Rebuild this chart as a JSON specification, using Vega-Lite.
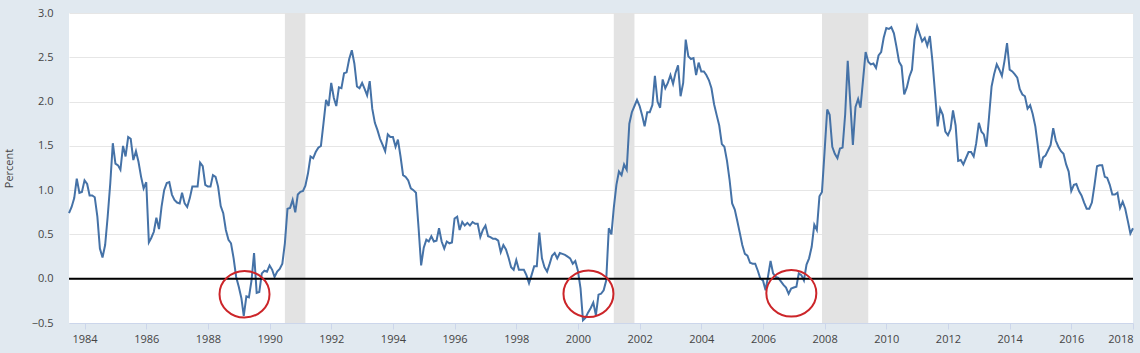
{
"$schema": "https://vega.github.io/schema/vega-lite/v6.json",
"width": 1064,
"height": 310,
"autosize": {"type": "none"},
"padding": {"left": 69, "top": 13, "right": 7, "bottom": 30},
"background": "#e1e9f0",
"config": {"view": {"fill": "white", "stroke": null}, "font": "Open Sans"},
"datasets": {
"recessions": [
{"start": "1990-07-01", "end": "1991-03-01"},
{"start": "2001-03-01", "end": "2001-11-01"},
{"start": "2007-12-01", "end": "2009-06-01"}
],
"circles": [
{"date": "1989-03-10", "v": -0.175},
{"date": "2000-05-05", "v": -0.17},
{"date": "2006-12-03", "v": -0.165}
],
"spread": [
{"date":"1983-07-01","v":0.74},{"date":"1983-08-01","v":0.81},{"date":"1983-09-01","v":0.91},{"date":"1983-10-01","v":1.13},{"date":"1983-11-01","v":0.97},{"date":"1983-12-01","v":0.98},
{"date":"1984-01-01","v":1.11},{"date":"1984-02-01","v":1.07},{"date":"1984-03-01","v":0.94},{"date":"1984-04-01","v":0.94},{"date":"1984-05-01","v":0.92},{"date":"1984-06-01","v":0.70},{"date":"1984-07-01","v":0.34},{"date":"1984-08-01","v":0.24},{"date":"1984-09-01","v":0.38},{"date":"1984-10-01","v":0.70},{"date":"1984-11-01","v":1.08},{"date":"1984-12-01","v":1.53},
{"date":"1985-01-01","v":1.30},{"date":"1985-02-01","v":1.28},{"date":"1985-03-01","v":1.23},{"date":"1985-04-01","v":1.50},{"date":"1985-05-01","v":1.38},{"date":"1985-06-01","v":1.60},{"date":"1985-07-01","v":1.58},{"date":"1985-08-01","v":1.34},{"date":"1985-09-01","v":1.44},{"date":"1985-10-01","v":1.32},{"date":"1985-11-01","v":1.15},{"date":"1985-12-01","v":1.02},
{"date":"1986-01-01","v":1.09},{"date":"1986-02-01","v":0.41},{"date":"1986-03-01","v":0.46},{"date":"1986-04-01","v":0.53},{"date":"1986-05-01","v":0.69},{"date":"1986-06-01","v":0.56},{"date":"1986-07-01","v":0.81},{"date":"1986-08-01","v":1.00},{"date":"1986-09-01","v":1.08},{"date":"1986-10-01","v":1.09},{"date":"1986-11-01","v":0.95},{"date":"1986-12-01","v":0.89},
{"date":"1987-01-01","v":0.86},{"date":"1987-02-01","v":0.85},{"date":"1987-03-01","v":0.97},{"date":"1987-04-01","v":0.85},{"date":"1987-05-01","v":0.81},{"date":"1987-06-01","v":0.91},{"date":"1987-07-01","v":1.04},{"date":"1987-08-01","v":1.04},{"date":"1987-09-01","v":1.04},{"date":"1987-10-01","v":1.31},{"date":"1987-11-01","v":1.27},{"date":"1987-12-01","v":1.06},
{"date":"1988-01-01","v":1.04},{"date":"1988-02-01","v":1.04},{"date":"1988-03-01","v":1.17},{"date":"1988-04-01","v":1.15},{"date":"1988-05-01","v":1.04},{"date":"1988-06-01","v":0.82},{"date":"1988-07-01","v":0.74},{"date":"1988-08-01","v":0.55},{"date":"1988-09-01","v":0.44},{"date":"1988-10-01","v":0.40},{"date":"1988-11-01","v":0.23},{"date":"1988-12-01","v":0.02},
{"date":"1989-01-01","v":-0.09},{"date":"1989-02-01","v":-0.22},{"date":"1989-03-01","v":-0.42},{"date":"1989-04-01","v":-0.20},{"date":"1989-05-01","v":-0.21},{"date":"1989-06-01","v":-0.02},{"date":"1989-07-01","v":0.29},{"date":"1989-08-01","v":-0.16},{"date":"1989-09-01","v":-0.15},{"date":"1989-10-01","v":0.06},{"date":"1989-11-01","v":0.09},{"date":"1989-12-01","v":0.08},
{"date":"1990-01-01","v":0.15},{"date":"1990-02-01","v":0.10},{"date":"1990-03-01","v":0.02},{"date":"1990-04-01","v":0.08},{"date":"1990-05-01","v":0.11},{"date":"1990-06-01","v":0.17},{"date":"1990-07-01","v":0.40},{"date":"1990-08-01","v":0.79},{"date":"1990-09-01","v":0.80},{"date":"1990-10-01","v":0.89},{"date":"1990-11-01","v":0.75},{"date":"1990-12-01","v":0.95},
{"date":"1991-01-01","v":0.98},{"date":"1991-02-01","v":0.99},{"date":"1991-03-01","v":1.05},{"date":"1991-04-01","v":1.19},{"date":"1991-05-01","v":1.38},{"date":"1991-06-01","v":1.36},{"date":"1991-07-01","v":1.43},{"date":"1991-08-01","v":1.48},{"date":"1991-09-01","v":1.50},{"date":"1991-10-01","v":1.75},{"date":"1991-11-01","v":2.02},{"date":"1991-12-01","v":1.95},
{"date":"1992-01-01","v":2.21},{"date":"1992-02-01","v":2.04},{"date":"1992-03-01","v":1.95},{"date":"1992-04-01","v":2.16},{"date":"1992-05-01","v":2.15},{"date":"1992-06-01","v":2.32},{"date":"1992-07-01","v":2.33},{"date":"1992-08-01","v":2.48},{"date":"1992-09-01","v":2.58},{"date":"1992-10-01","v":2.43},{"date":"1992-11-01","v":2.17},{"date":"1992-12-01","v":2.15},
{"date":"1993-01-01","v":2.21},{"date":"1993-02-01","v":2.14},{"date":"1993-03-01","v":2.07},{"date":"1993-04-01","v":2.23},{"date":"1993-05-01","v":1.92},{"date":"1993-06-01","v":1.76},{"date":"1993-07-01","v":1.68},{"date":"1993-08-01","v":1.58},{"date":"1993-09-01","v":1.51},{"date":"1993-10-01","v":1.44},{"date":"1993-11-01","v":1.63},{"date":"1993-12-01","v":1.60},
{"date":"1994-01-01","v":1.60},{"date":"1994-02-01","v":1.49},{"date":"1994-03-01","v":1.57},{"date":"1994-04-01","v":1.38},{"date":"1994-05-01","v":1.17},{"date":"1994-06-01","v":1.15},{"date":"1994-07-01","v":1.11},{"date":"1994-08-01","v":1.02},{"date":"1994-09-01","v":1.00},{"date":"1994-10-01","v":0.97},{"date":"1994-11-01","v":0.57},{"date":"1994-12-01","v":0.15},
{"date":"1995-01-01","v":0.35},{"date":"1995-02-01","v":0.44},{"date":"1995-03-01","v":0.42},{"date":"1995-04-01","v":0.48},{"date":"1995-05-01","v":0.42},{"date":"1995-06-01","v":0.43},{"date":"1995-07-01","v":0.57},{"date":"1995-08-01","v":0.42},{"date":"1995-09-01","v":0.34},{"date":"1995-10-01","v":0.42},{"date":"1995-11-01","v":0.40},{"date":"1995-12-01","v":0.41},
{"date":"1996-01-01","v":0.68},{"date":"1996-02-01","v":0.70},{"date":"1996-03-01","v":0.55},{"date":"1996-04-01","v":0.64},{"date":"1996-05-01","v":0.60},{"date":"1996-06-01","v":0.63},{"date":"1996-07-01","v":0.60},{"date":"1996-08-01","v":0.64},{"date":"1996-09-01","v":0.62},{"date":"1996-10-01","v":0.62},{"date":"1996-11-01","v":0.47},{"date":"1996-12-01","v":0.55},
{"date":"1997-01-01","v":0.60},{"date":"1997-02-01","v":0.48},{"date":"1997-03-01","v":0.47},{"date":"1997-04-01","v":0.45},{"date":"1997-05-01","v":0.45},{"date":"1997-06-01","v":0.43},{"date":"1997-07-01","v":0.30},{"date":"1997-08-01","v":0.38},{"date":"1997-09-01","v":0.33},{"date":"1997-10-01","v":0.24},{"date":"1997-11-01","v":0.13},{"date":"1997-12-01","v":0.10},
{"date":"1998-01-01","v":0.21},{"date":"1998-02-01","v":0.10},{"date":"1998-03-01","v":0.10},{"date":"1998-04-01","v":0.10},{"date":"1998-05-01","v":0.04},{"date":"1998-06-01","v":-0.05},{"date":"1998-07-01","v":0.04},{"date":"1998-08-01","v":0.14},{"date":"1998-09-01","v":0.14},{"date":"1998-10-01","v":0.52},{"date":"1998-11-01","v":0.23},{"date":"1998-12-01","v":0.13},
{"date":"1999-01-01","v":0.08},{"date":"1999-02-01","v":0.17},{"date":"1999-03-01","v":0.26},{"date":"1999-04-01","v":0.29},{"date":"1999-05-01","v":0.23},{"date":"1999-06-01","v":0.29},{"date":"1999-07-01","v":0.28},{"date":"1999-08-01","v":0.27},{"date":"1999-09-01","v":0.25},{"date":"1999-10-01","v":0.23},{"date":"1999-11-01","v":0.17},{"date":"1999-12-01","v":0.20},
{"date":"2000-01-01","v":0.09},{"date":"2000-02-01","v":-0.11},{"date":"2000-03-01","v":-0.47},{"date":"2000-04-01","v":-0.44},{"date":"2000-05-01","v":-0.38},{"date":"2000-06-01","v":-0.33},{"date":"2000-07-01","v":-0.27},{"date":"2000-08-01","v":-0.41},{"date":"2000-09-01","v":-0.18},{"date":"2000-10-01","v":-0.17},{"date":"2000-11-01","v":-0.13},{"date":"2000-12-01","v":-0.02},
{"date":"2001-01-01","v":0.57},{"date":"2001-02-01","v":0.50},{"date":"2001-03-01","v":0.80},{"date":"2001-04-01","v":1.06},{"date":"2001-05-01","v":1.21},{"date":"2001-06-01","v":1.17},{"date":"2001-07-01","v":1.29},{"date":"2001-08-01","v":1.23},{"date":"2001-09-01","v":1.75},{"date":"2001-10-01","v":1.88},{"date":"2001-11-01","v":1.95},{"date":"2001-12-01","v":2.02},
{"date":"2002-01-01","v":1.95},{"date":"2002-02-01","v":1.84},{"date":"2002-03-01","v":1.72},{"date":"2002-04-01","v":1.88},{"date":"2002-05-01","v":1.88},{"date":"2002-06-01","v":1.96},{"date":"2002-07-01","v":2.29},{"date":"2002-08-01","v":2.00},{"date":"2002-09-01","v":1.93},{"date":"2002-10-01","v":2.25},{"date":"2002-11-01","v":2.15},{"date":"2002-12-01","v":2.21},
{"date":"2003-01-01","v":2.30},{"date":"2003-02-01","v":2.20},{"date":"2003-03-01","v":2.32},{"date":"2003-04-01","v":2.41},{"date":"2003-05-01","v":2.06},{"date":"2003-06-01","v":2.21},{"date":"2003-07-01","v":2.70},{"date":"2003-08-01","v":2.51},{"date":"2003-09-01","v":2.48},{"date":"2003-10-01","v":2.49},{"date":"2003-11-01","v":2.30},{"date":"2003-12-01","v":2.44},
{"date":"2004-01-01","v":2.34},{"date":"2004-02-01","v":2.34},{"date":"2004-03-01","v":2.30},{"date":"2004-04-01","v":2.24},{"date":"2004-05-01","v":2.15},{"date":"2004-06-01","v":1.97},{"date":"2004-07-01","v":1.85},{"date":"2004-08-01","v":1.73},{"date":"2004-09-01","v":1.52},{"date":"2004-10-01","v":1.49},{"date":"2004-11-01","v":1.33},{"date":"2004-12-01","v":1.12},
{"date":"2005-01-01","v":0.85},{"date":"2005-02-01","v":0.78},{"date":"2005-03-01","v":0.66},{"date":"2005-04-01","v":0.52},{"date":"2005-05-01","v":0.38},{"date":"2005-06-01","v":0.28},{"date":"2005-07-01","v":0.26},{"date":"2005-08-01","v":0.18},{"date":"2005-09-01","v":0.17},{"date":"2005-10-01","v":0.17},{"date":"2005-11-01","v":0.09},{"date":"2005-12-01","v":0.00},
{"date":"2006-01-01","v":-0.02},{"date":"2006-02-01","v":-0.13},{"date":"2006-03-01","v":0.02},{"date":"2006-04-01","v":0.20},{"date":"2006-05-01","v":0.06},{"date":"2006-06-01","v":0.02},{"date":"2006-07-01","v":0.01},{"date":"2006-08-01","v":-0.03},{"date":"2006-09-01","v":-0.07},{"date":"2006-10-01","v":-0.10},{"date":"2006-11-01","v":-0.17},{"date":"2006-12-01","v":-0.11},
{"date":"2007-01-01","v":-0.10},{"date":"2007-02-01","v":-0.09},{"date":"2007-03-01","v":0.06},{"date":"2007-04-01","v":0.04},{"date":"2007-05-01","v":-0.02},{"date":"2007-06-01","v":0.16},{"date":"2007-07-01","v":0.23},{"date":"2007-08-01","v":0.36},{"date":"2007-09-01","v":0.61},{"date":"2007-10-01","v":0.55},{"date":"2007-11-01","v":0.93},{"date":"2007-12-01","v":0.98},
{"date":"2008-01-01","v":1.44},{"date":"2008-02-01","v":1.91},{"date":"2008-03-01","v":1.85},{"date":"2008-04-01","v":1.49},{"date":"2008-05-01","v":1.41},{"date":"2008-06-01","v":1.36},{"date":"2008-07-01","v":1.47},{"date":"2008-08-01","v":1.48},{"date":"2008-09-01","v":1.86},{"date":"2008-10-01","v":2.46},{"date":"2008-11-01","v":1.98},{"date":"2008-12-01","v":1.51},
{"date":"2009-01-01","v":1.94},{"date":"2009-02-01","v":2.03},{"date":"2009-03-01","v":1.93},{"date":"2009-04-01","v":2.25},{"date":"2009-05-01","v":2.56},{"date":"2009-06-01","v":2.45},{"date":"2009-07-01","v":2.42},{"date":"2009-08-01","v":2.43},{"date":"2009-09-01","v":2.38},{"date":"2009-10-01","v":2.52},{"date":"2009-11-01","v":2.56},{"date":"2009-12-01","v":2.72},
{"date":"2010-01-01","v":2.83},{"date":"2010-02-01","v":2.82},{"date":"2010-03-01","v":2.84},{"date":"2010-04-01","v":2.77},{"date":"2010-05-01","v":2.62},{"date":"2010-06-01","v":2.45},{"date":"2010-07-01","v":2.40},{"date":"2010-08-01","v":2.08},{"date":"2010-09-01","v":2.16},{"date":"2010-10-01","v":2.28},{"date":"2010-11-01","v":2.36},{"date":"2010-12-01","v":2.70},
{"date":"2011-01-01","v":2.85},{"date":"2011-02-01","v":2.76},{"date":"2011-03-01","v":2.68},{"date":"2011-04-01","v":2.72},{"date":"2011-05-01","v":2.63},{"date":"2011-06-01","v":2.74},{"date":"2011-07-01","v":2.46},{"date":"2011-08-01","v":2.10},{"date":"2011-09-01","v":1.72},{"date":"2011-10-01","v":1.92},{"date":"2011-11-01","v":1.85},{"date":"2011-12-01","v":1.66},
{"date":"2012-01-01","v":1.62},{"date":"2012-02-01","v":1.69},{"date":"2012-03-01","v":1.90},{"date":"2012-04-01","v":1.73},{"date":"2012-05-01","v":1.33},{"date":"2012-06-01","v":1.34},{"date":"2012-07-01","v":1.29},{"date":"2012-08-01","v":1.36},{"date":"2012-09-01","v":1.43},{"date":"2012-10-01","v":1.43},{"date":"2012-11-01","v":1.38},{"date":"2012-12-01","v":1.53},
{"date":"2013-01-01","v":1.76},{"date":"2013-02-01","v":1.66},{"date":"2013-03-01","v":1.63},{"date":"2013-04-01","v":1.49},{"date":"2013-05-01","v":1.82},{"date":"2013-06-01","v":2.17},{"date":"2013-07-01","v":2.31},{"date":"2013-08-01","v":2.42},{"date":"2013-09-01","v":2.36},{"date":"2013-10-01","v":2.29},{"date":"2013-11-01","v":2.46},{"date":"2013-12-01","v":2.66},
{"date":"2014-01-01","v":2.36},{"date":"2014-02-01","v":2.34},{"date":"2014-03-01","v":2.31},{"date":"2014-04-01","v":2.27},{"date":"2014-05-01","v":2.14},{"date":"2014-06-01","v":2.08},{"date":"2014-07-01","v":2.06},{"date":"2014-08-01","v":1.92},{"date":"2014-09-01","v":1.96},{"date":"2014-10-01","v":1.86},{"date":"2014-11-01","v":1.72},{"date":"2014-12-01","v":1.50},
{"date":"2015-01-01","v":1.25},{"date":"2015-02-01","v":1.37},{"date":"2015-03-01","v":1.39},{"date":"2015-04-01","v":1.45},{"date":"2015-05-01","v":1.51},{"date":"2015-06-01","v":1.70},{"date":"2015-07-01","v":1.56},{"date":"2015-08-01","v":1.49},{"date":"2015-09-01","v":1.44},{"date":"2015-10-01","v":1.41},{"date":"2015-11-01","v":1.29},{"date":"2015-12-01","v":1.21},
{"date":"2016-01-01","v":0.99},{"date":"2016-02-01","v":1.06},{"date":"2016-03-01","v":1.07},{"date":"2016-04-01","v":0.99},{"date":"2016-05-01","v":0.94},{"date":"2016-06-01","v":0.86},{"date":"2016-07-01","v":0.79},{"date":"2016-08-01","v":0.79},{"date":"2016-09-01","v":0.86},{"date":"2016-10-01","v":1.05},{"date":"2016-11-01","v":1.27},{"date":"2016-12-01","v":1.28},
{"date":"2017-01-01","v":1.28},{"date":"2017-02-01","v":1.15},{"date":"2017-03-01","v":1.14},{"date":"2017-04-01","v":1.06},{"date":"2017-05-01","v":0.95},{"date":"2017-06-01","v":0.95},{"date":"2017-07-01","v":0.97},{"date":"2017-08-01","v":0.80},{"date":"2017-09-01","v":0.87},{"date":"2017-10-01","v":0.79},{"date":"2017-11-01","v":0.65},{"date":"2017-12-01","v":0.51},
{"date":"2018-01-01","v":0.57}
]
},
"layer": [
{
"data": {"name": "recessions"},
"mark": {"type": "rect", "color": "#e3e3e3"},
"encoding": {
"x": {"field": "start", "type": "temporal"},
"x2": {"field": "end"}
}
},
{
"data": {"name": "spread"},
"mark": {"type": "line", "color": "#4572a7", "strokeWidth": 2},
"encoding": {
"x": {"field": "date", "type": "temporal",
"scale": {"domain": [{"year": 1983, "month": 7, "date": 1}, {"year": 2018, "month": 1, "date": 1}], "nice": false},
"axis": {"title": null, "format": "%Y", "tickCount": {"interval": "year", "step": 2}, "grid": false,
"domain": true, "domainColor": "#ccd6eb", "ticks": true, "tickColor": "#ccd6eb", "tickSize": 6,
"labelFont": "Open Sans", "labelFontSize": 11, "labelColor": "#444444", "labelPadding": 4, "labelFlush": 5, "labelOverlap": false}},
"y": {"field": "v", "type": "quantitative",
"scale": {"domain": [-0.5, 3.0], "nice": false, "zero": false},
"axis": {"title": "Percent", "values": [-0.5, 0, 0.5, 1, 1.5, 2, 2.5, 3], "format": ".1f",
"grid": true, "gridColor": "#e6e6e6", "gridWidth": 1, "domain": false, "ticks": false, "tickSize": 0,
"labelFont": "Open Sans", "labelFontSize": 11, "labelColor": "#444444", "labelPadding": 16,
"titleFont": "Open Sans", "titleFontSize": 11, "titleFontWeight": "normal", "titleColor": "#444444",
"titleAngle": -90, "titleX": -60, "titleY": 155, "titleAlign": "center", "titleBaseline": "middle"}}
}
},
{
"data": {"values": [{"z": 0}]},
"mark": {"type": "rule", "color": "#000000", "strokeWidth": 2},
"encoding": {"y": {"field": "z", "type": "quantitative"}}
},
{
"data": {"name": "circles"},
"mark": {"type": "point", "shape": "M -1 0 A 1 0.93 0 1 1 1 0 A 1 0.93 0 1 1 -1 0 Z", "size": 2500, "filled": false, "stroke": "#cc2529", "strokeWidth": 2, "opacity": 1},
"encoding": {
"x": {"field": "date", "type": "temporal"},
"y": {"field": "v", "type": "quantitative"}
}
}
]
}
